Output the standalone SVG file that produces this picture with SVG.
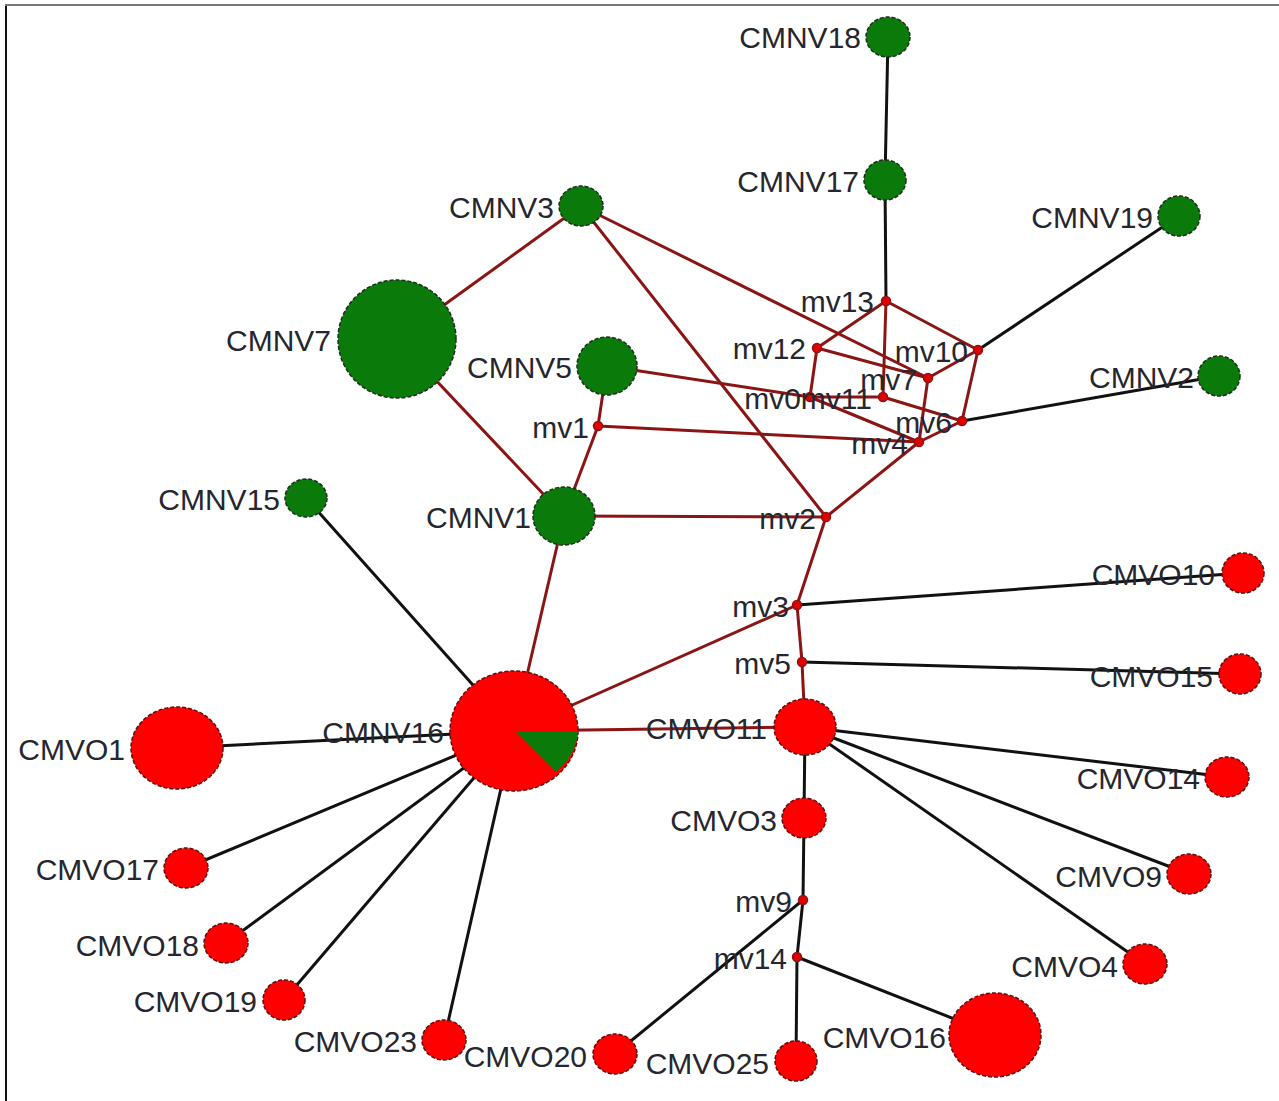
<svg xmlns="http://www.w3.org/2000/svg" width="1279" height="1101" viewBox="0 0 1279 1101">
<style>
.r{stroke:#8b1515;stroke-width:3;fill:none}
.k{stroke:#111;stroke-width:3;fill:none}
.g{fill:#0a7a0a;stroke:#1e2e1e;stroke-width:1.5;stroke-dasharray:4 2}
.o{fill:#ff0000;stroke:#5a1010;stroke-width:1.5;stroke-dasharray:4 2}
.m{fill:#e00000;stroke:#8b1515;stroke-width:1.5}
text{font-family:"Liberation Sans",Arial,sans-serif;font-size:30px;fill:#26262e;text-anchor:end}
</style>
<rect x="0" y="0" width="1279" height="1101" fill="#fff"/>
<path d="M6,1101 V5 H1279" stroke="#777" stroke-width="2" fill="none"/>
<path d="M6,1101 V6" stroke="#111" stroke-width="2" fill="none"/>
<g id="connectors">
<line class="r" x1="581" y1="206" x2="397" y2="339"/>
<line class="r" x1="581" y1="206" x2="826" y2="517"/>
<line class="r" x1="581" y1="206" x2="928" y2="378"/>
<line class="r" x1="397" y1="339" x2="564" y2="516"/>
<line class="r" x1="607" y1="366" x2="598" y2="426"/>
<line class="r" x1="607" y1="366" x2="810" y2="397"/>
<line class="r" x1="598" y1="426" x2="564" y2="516"/>
<line class="r" x1="598" y1="426" x2="919" y2="442"/>
<line class="r" x1="564" y1="516" x2="826" y2="517"/>
<line class="r" x1="564" y1="516" x2="514" y2="731"/>
<line class="r" x1="826" y1="517" x2="919" y2="442"/>
<line class="r" x1="826" y1="517" x2="797" y2="605"/>
<line class="r" x1="797" y1="605" x2="514" y2="731"/>
<line class="r" x1="797" y1="605" x2="802" y2="662"/>
<line class="r" x1="802" y1="662" x2="805" y2="727"/>
<line class="r" x1="805" y1="727" x2="514" y2="731"/>
<line class="r" x1="886" y1="301" x2="817" y2="348"/>
<line class="r" x1="886" y1="301" x2="978" y2="350"/>
<line class="r" x1="886" y1="301" x2="883" y2="397"/>
<line class="r" x1="817" y1="348" x2="810" y2="397"/>
<line class="r" x1="817" y1="348" x2="928" y2="378"/>
<line class="r" x1="978" y1="350" x2="928" y2="378"/>
<line class="r" x1="978" y1="350" x2="962" y2="421"/>
<line class="r" x1="928" y1="378" x2="919" y2="442"/>
<line class="r" x1="810" y1="397" x2="883" y2="397"/>
<line class="r" x1="810" y1="397" x2="919" y2="442"/>
<line class="r" x1="883" y1="397" x2="962" y2="421"/>
<line class="r" x1="962" y1="421" x2="919" y2="442"/>
<line class="k" x1="888" y1="37" x2="885" y2="180"/>
<line class="k" x1="885" y1="180" x2="886" y2="301"/>
<line class="k" x1="978" y1="350" x2="1179" y2="216"/>
<line class="k" x1="962" y1="421" x2="1219" y2="376"/>
<line class="k" x1="306" y1="498" x2="514" y2="731"/>
<line class="k" x1="797" y1="605" x2="1243" y2="573"/>
<line class="k" x1="802" y1="662" x2="1240" y2="674"/>
<line class="k" x1="805" y1="727" x2="1227" y2="777"/>
<line class="k" x1="805" y1="727" x2="1189" y2="874"/>
<line class="k" x1="805" y1="727" x2="1145" y2="964"/>
<line class="k" x1="805" y1="727" x2="804" y2="818"/>
<line class="k" x1="804" y1="818" x2="803" y2="900"/>
<line class="k" x1="803" y1="900" x2="615" y2="1054"/>
<line class="k" x1="803" y1="900" x2="797" y2="957"/>
<line class="k" x1="797" y1="957" x2="796" y2="1061"/>
<line class="k" x1="797" y1="957" x2="995" y2="1035"/>
<line class="k" x1="514" y1="731" x2="177" y2="748"/>
<line class="k" x1="514" y1="731" x2="186" y2="868"/>
<line class="k" x1="514" y1="731" x2="226" y2="943"/>
<line class="k" x1="514" y1="731" x2="284" y2="1000"/>
<line class="k" x1="514" y1="731" x2="444" y2="1040"/>
</g>
<g id="CMNV18"><ellipse class="g" cx="888" cy="37" rx="22" ry="20"/><text x="861" y="48">CMNV18</text></g>
<g id="CMNV17"><ellipse class="g" cx="885" cy="180" rx="21" ry="20"/><text x="859" y="192">CMNV17</text></g>
<g id="CMNV3"><ellipse class="g" cx="581" cy="206" rx="22" ry="20"/><text x="554" y="218">CMNV3</text></g>
<g id="CMNV19"><ellipse class="g" cx="1179" cy="216" rx="21" ry="20"/><text x="1153" y="228">CMNV19</text></g>
<g id="CMNV7"><ellipse class="g" cx="397" cy="339" rx="59" ry="59"/><text x="331" y="351">CMNV7</text></g>
<g id="CMNV5"><ellipse class="g" cx="607" cy="366" rx="30" ry="29"/><text x="572" y="378">CMNV5</text></g>
<g id="CMNV2"><ellipse class="g" cx="1219" cy="376" rx="21" ry="20"/><text x="1194" y="388">CMNV2</text></g>
<g id="CMNV15"><ellipse class="g" cx="306" cy="498" rx="21" ry="19"/><text x="280" y="510">CMNV15</text></g>
<g id="CMNV1"><ellipse class="g" cx="564" cy="516" rx="31" ry="29"/><text x="531" y="528">CMNV1</text></g>
<g id="CMNV16"><ellipse class="o" cx="514" cy="731" rx="64" ry="60"/><path d="M515,731 L578,731 A64,60 0 0,1 556,772 Z" fill="#0a7a0a"/><text x="444" y="743">CMNV16</text></g>
<g id="CMVO10"><ellipse class="o" cx="1243" cy="573" rx="21" ry="20"/><text x="1215" y="585">CMVO10</text></g>
<g id="CMVO15"><ellipse class="o" cx="1240" cy="674" rx="21" ry="20"/><text x="1213" y="687">CMVO15</text></g>
<g id="CMVO11"><ellipse class="o" cx="805" cy="727" rx="31" ry="28"/><text x="767" y="739">CMVO11</text></g>
<g id="CMVO1"><ellipse class="o" cx="177" cy="748" rx="46" ry="41"/><text x="125" y="760">CMVO1</text></g>
<g id="CMVO14"><ellipse class="o" cx="1227" cy="777" rx="22" ry="20"/><text x="1200" y="789">CMVO14</text></g>
<g id="CMVO3"><ellipse class="o" cx="804" cy="818" rx="22" ry="20"/><text x="777" y="831">CMVO3</text></g>
<g id="CMVO17"><ellipse class="o" cx="186" cy="868" rx="22" ry="20"/><text x="159" y="880">CMVO17</text></g>
<g id="CMVO9"><ellipse class="o" cx="1189" cy="874" rx="22" ry="20"/><text x="1162" y="887">CMVO9</text></g>
<g id="CMVO18"><ellipse class="o" cx="226" cy="943" rx="22" ry="20"/><text x="199" y="956">CMVO18</text></g>
<g id="CMVO4"><ellipse class="o" cx="1145" cy="964" rx="22" ry="20"/><text x="1118" y="977">CMVO4</text></g>
<g id="CMVO19"><ellipse class="o" cx="284" cy="1000" rx="21" ry="20"/><text x="257" y="1012">CMVO19</text></g>
<g id="CMVO23"><ellipse class="o" cx="444" cy="1040" rx="22" ry="20"/><text x="417" y="1052">CMVO23</text></g>
<g id="CMVO20"><ellipse class="o" cx="615" cy="1054" rx="22" ry="20"/><text x="587" y="1067">CMVO20</text></g>
<g id="CMVO25"><ellipse class="o" cx="796" cy="1061" rx="21" ry="20"/><text x="769" y="1074">CMVO25</text></g>
<g id="CMVO16"><ellipse class="o" cx="995" cy="1035" rx="46" ry="42"/><text x="946" y="1048">CMVO16</text></g>
<g id="mv13"><circle class="m" cx="886" cy="301" r="4.5"/><text x="874" y="312">mv13</text></g>
<g id="mv12"><circle class="m" cx="817" cy="348" r="4.5"/><text x="806" y="359">mv12</text></g>
<g id="mv10"><circle class="m" cx="978" cy="350" r="4.5"/><text x="968" y="362">mv10</text></g>
<g id="mv7"><circle class="m" cx="928" cy="378" r="4.5"/><text x="917" y="390">mv7</text></g>
<g id="mv0"><circle class="m" cx="810" cy="397" r="4.5"/><text x="801" y="409">mv0</text></g>
<g id="mv11"><circle class="m" cx="883" cy="397" r="4.5"/><text x="872" y="409">mv11</text></g>
<g id="mv6"><circle class="m" cx="962" cy="421" r="4.5"/><text x="952" y="433">mv6</text></g>
<g id="mv4"><circle class="m" cx="919" cy="442" r="4.5"/><text x="908" y="454">mv4</text></g>
<g id="mv1"><circle class="m" cx="598" cy="426" r="4.5"/><text x="589" y="438">mv1</text></g>
<g id="mv2"><circle class="m" cx="826" cy="517" r="4.5"/><text x="816" y="529">mv2</text></g>
<g id="mv3"><circle class="m" cx="797" cy="605" r="4.5"/><text x="789" y="617">mv3</text></g>
<g id="mv5"><circle class="m" cx="802" cy="662" r="4.5"/><text x="791" y="674">mv5</text></g>
<g id="mv9"><circle class="m" cx="803" cy="900" r="4.5"/><text x="792" y="912">mv9</text></g>
<g id="mv14"><circle class="m" cx="797" cy="957" r="4.5"/><text x="787" y="969">mv14</text></g>
</svg>
